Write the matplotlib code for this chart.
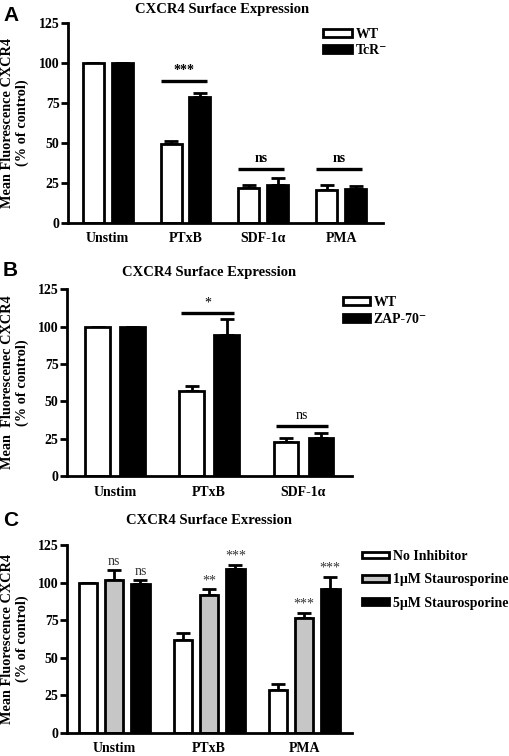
import matplotlib
matplotlib.use("Agg")
import matplotlib.pyplot as plt
from matplotlib.patches import Patch
import numpy as np

plt.rcParams['font.family'] = ['Liberation Serif', 'DejaVu Serif']
plt.rcParams['font.weight'] = 'bold'

# ---------------- data ----------------
a_cats = ["Unstim", "PTxB", "SDF-1α", "PMA"]
a_wt = [100, 49, 21.5, 20.2]
a_wt_err = [0, 2.1, 2.1, 3.6]
a_tcr = [100, 78.7, 23.6, 20.9]
a_tcr_err = [0, 2.2, 4.3, 2.0]
a_sig = ["***", "ns", "ns"]          # PTxB, SDF, PMA
a_sig_y = [88.7, 33.8, 33.8]

b_cats = ["Unstim", "PTxB", "SDF-1α"]
b_wt = [100, 57.1, 23]
b_wt_err = [0, 3.4, 2.2]
b_zap = [100, 94.4, 25.2]
b_zap_err = [0, 10.8, 3.4]
b_sig = ["*", "ns"]                  # PTxB, SDF
b_sig_y = [109.4, 33.7]

c_cats = ["Unstim", "PTxB", "PMA"]
c_none = [100, 61.8, 28.5]
c_none_err = [0, 4.9, 4.0]
c_1um = [101.8, 91.8, 76.2]
c_1um_err = [6.7, 3.8, 3.8]
c_5um = [99.1, 109.1, 95.6]
c_5um_err = [2.7, 2.7, 8.4]
c_sig_1um = ["ns", "**", "***"]
c_sig_5um = ["ns", "***", "***"]

yticks = [0, 25, 50, 75, 100, 125]

W, H = 509, 756
fig = plt.figure(figsize=(W / 100, H / 100), dpi=100)

LW = 2.0
FS = 10


def ax_px(l, r, t, b):
    return fig.add_axes([l / W, 1 - b / H, (r - l) / W, (b - t) / H])


def style_axes(ax, xlim, cats, ylabel, labx):
    ax.set_ylim(0, 125)
    ax.set_xlim(*xlim)
    ax.set_yticks(yticks)
    ax.set_xticks(range(len(cats)))
    ax.set_xticklabels(cats, fontsize=FS, fontweight='bold')
    ax.tick_params(axis='x', length=0, pad=7)
    ax.tick_params(axis='y', length=5, width=LW, labelsize=FS, pad=1)
    for lab in ax.get_yticklabels():
        lab.set_fontweight('bold')
    for s in ['top', 'right']:
        ax.spines[s].set_visible(False)
    for s in ['left', 'bottom']:
        ax.spines[s].set_linewidth(LW)
    ax.set_ylabel(ylabel, fontsize=FS + 0.3, fontweight='bold', linespacing=1.15)
    ax.yaxis.set_label_coords(labx, 0.5)


def bars(ax, x, vals, errs, width, color, capsize=5):
    ax.bar(x, vals, width=width, color=color, edgecolor='black',
           linewidth=LW, zorder=2)
    ax.errorbar(x, vals, yerr=[np.zeros(len(errs)), errs], fmt='none',
                ecolor='black', elinewidth=LW, capsize=capsize,
                capthick=LW, zorder=1)


def sigline(ax, x0, x1, y, text, weight):
    ax.plot([x0, x1], [y, y], color='black', lw=2.4, solid_capstyle='butt')
    ax.text((x0 + x1) / 2, y + 2.2, text, ha='center', va='bottom',
            fontsize=FS, fontweight=weight)


def handles(colors, labels):
    return [Patch(facecolor=c, edgecolor='black', linewidth=LW, label=l)
            for c, l in zip(colors, labels)]


# ---------------- Panel A ----------------
axA = ax_px(68, 382.7, 22.7, 222.7)
xa = np.arange(len(a_cats))
w = 0.27
off = 0.186
bars(axA, xa - off, a_wt, a_wt_err, w, 'white')
bars(axA, xa + off, a_tcr, a_tcr_err, w, 'black')
style_axes(axA, (-0.51, 3.535), a_cats, "Mean Fluorescence CXCR4\n(% of control)", -0.124)
for i, (t, y) in enumerate(zip(a_sig, a_sig_y)):
    sigline(axA, xa[i + 1] - off - w / 2, xa[i + 1] + off + w / 2 - 0.05, y, t, 'bold')
axA.legend(handles=handles(['white', 'black'], ['WT', 'TcR⁻']),
           loc='upper left', bbox_to_anchor=(0.81, 0.975), frameon=False,
           fontsize=FS, handlelength=2.1, handleheight=0.55, handletextpad=0.3,
           labelspacing=0.25, borderaxespad=0, borderpad=0)
fig.text(221.7 / W, 1 - 10 / H, "CXCR4 Surface Expression", ha='center', va='center',
         fontsize=10.5, fontweight='bold')
fig.text(3 / W, 1 - 6 / H, "A", fontsize=15, fontweight='bold',
         family='Liberation Sans', va='top')

# ---------------- Panel B ----------------
axB = ax_px(67, 351.7, 289.3, 476)
xb = np.arange(len(b_cats))
wb = 0.26
offb = 0.186
bars(axB, xb - offb, b_wt, b_wt_err, wb, 'white')
bars(axB, xb + offb, b_zap, b_zap_err, wb, 'black')
style_axes(axB, (-0.51, 2.513), b_cats, "Mean  Fluorescenec CXCR4\n(% of control)", -0.133)
for i, (t, y) in enumerate(zip(b_sig, b_sig_y)):
    sigline(axB, xb[i + 1] - offb - wb / 2 + 0.02, xb[i + 1] + offb + wb / 2 - 0.05, y, t, 'normal')
axB.legend(handles=handles(['white', 'black'], ['WT', 'ZAP-70⁻']),
           loc='upper left', bbox_to_anchor=(0.968, 0.965), frameon=False,
           fontsize=FS, handlelength=2.0, handleheight=0.45, handletextpad=0.25,
           labelspacing=0.3, borderaxespad=0, borderpad=0)
fig.text(209 / W, 1 - 272.7 / H, "CXCR4 Surface Expression", ha='center', va='center',
         fontsize=10.5, fontweight='bold')
fig.text(3 / W, 1 - 261 / H, "B", fontsize=15, fontweight='bold',
         family='Liberation Sans', va='top')

# ---------------- Panel C ----------------
axC = ax_px(67, 351.7, 545.2, 732.7)
xc = np.arange(len(c_cats))
wc = 0.195
offc = 0.275
bars(axC, xc - offc, c_none, c_none_err, wc, 'white')
bars(axC, xc, c_1um, c_1um_err, wc, '#c6c6c6')
bars(axC, xc + offc, c_5um, c_5um_err, wc, 'black')
style_axes(axC, (-0.497, 2.5), c_cats, "Mean Fluorescence CXCR4\n(% of control)", -0.133)
for i in range(len(c_cats)):
    axC.text(xc[i], c_1um[i] + c_1um_err[i] + 1.5, c_sig_1um[i], ha='center',
             va='bottom', fontsize=FS, fontweight='normal', color='#333333')
    axC.text(xc[i] + offc, c_5um[i] + c_5um_err[i] + 1.5, c_sig_5um[i], ha='center',
             va='bottom', fontsize=FS, fontweight='normal', color='#333333')
axC.legend(handles=handles(['white', '#c6c6c6', 'black'],
                           ['No Inhibitor', '1μM Staurosporine', '5μM Staurosporine']),
           loc='upper left', bbox_to_anchor=(1.035, 0.975), frameon=False,
           fontsize=FS, handlelength=2.0, handleheight=0.35, handletextpad=0.25,
           labelspacing=0.75, borderaxespad=0, borderpad=0)
fig.text(209 / W, 1 - 520 / H, "CXCR4 Surface Exression", ha='center', va='center',
         fontsize=10.5, fontweight='bold')
fig.text(3 / W, 1 - 511 / H, "C", fontsize=15, fontweight='bold',
         family='Liberation Sans', va='top')

fig.savefig("out.png", dpi=100)
